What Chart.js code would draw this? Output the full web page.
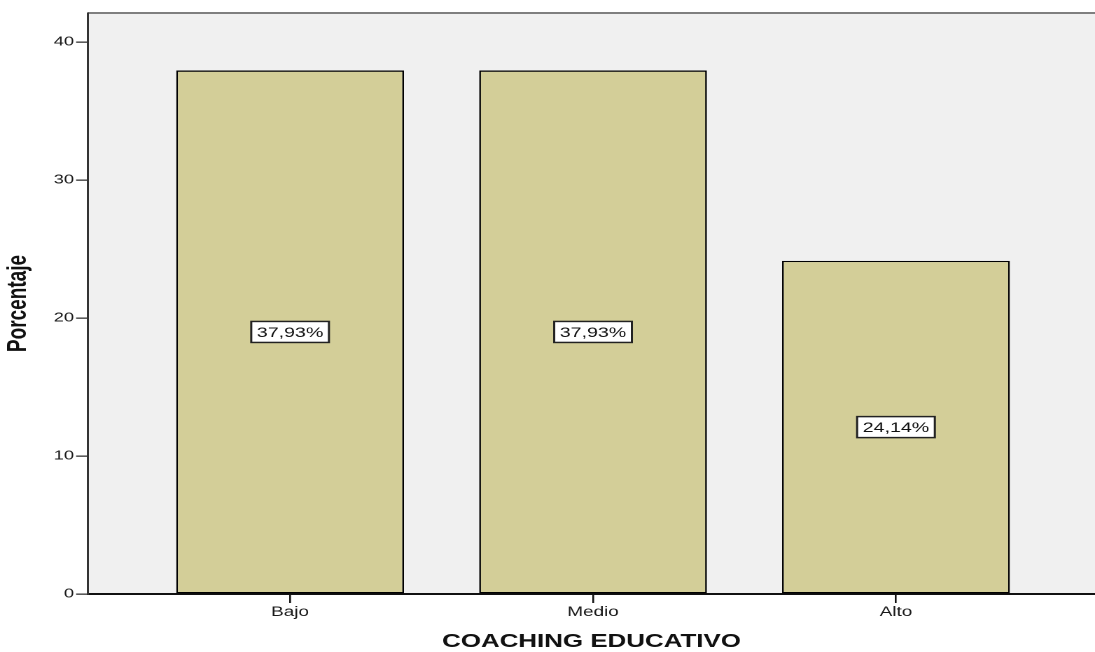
<!DOCTYPE html>
<html lang="es">
<head>
<meta charset="utf-8">
<title>Coaching educativo</title>
<script src="https://cdn.jsdelivr.net/npm/chart.js@4.4.1/dist/chart.umd.min.js"></script>
<style>
    html, body { margin: 0; padding: 0; background: #ffffff; overflow: hidden; }
    /* the chart is laid out narrower and stretched sideways, like the exported SPSS graphic */
    #wrap { width: 782px; height: 652px; transform: scaleX(1.40026); transform-origin: 0 0; }
</style>
</head>
<body>
<div id="wrap"><canvas id="coachingChart" width="782" height="652"></canvas></div>
<script>
const categorias = ['Bajo', 'Medio', 'Alto'];
const porcentajes = [37.93, 37.93, 24.14];
const ticksY = [0, 10, 20, 30, 40];

document.addEventListener('DOMContentLoaded', () => {
    const ctx = document.getElementById('coachingChart').getContext('2d');

    Chart.defaults.font.family = '"Liberation Sans", Arial, sans-serif';
    Chart.defaults.color = '#1a1a1a';

    function formatoPorcentaje(valor) {
        return valor.toFixed(2).replace('.', ',') + '%';
    }

    // fondo gris del área de trazado y línea superior
    const fondoArea = {
        id: 'fondoArea',
        beforeDraw(chart) {
            const { ctx, chartArea: a } = chart;
            ctx.save();
            ctx.fillStyle = '#f0f0f0';
            ctx.fillRect(a.left, a.top, a.right - a.left, a.bottom - a.top);
            ctx.strokeStyle = '#7f7f7f';
            ctx.lineWidth = 2;
            ctx.beginPath();
            ctx.moveTo(a.left, a.top);
            ctx.lineTo(a.right, a.top);
            ctx.stroke();
            ctx.restore();
        }
    };

    // etiquetas con el porcentaje en el centro de cada barra
    const etiquetasBarras = {
        id: 'etiquetasBarras',
        afterDatasetsDraw(chart) {
            const { ctx } = chart;
            const meta = chart.getDatasetMeta(0);
            ctx.save();
            ctx.font = '14px "Liberation Sans", Arial, sans-serif';
            ctx.textAlign = 'center';
            ctx.textBaseline = 'middle';
            meta.data.forEach((bar, i) => {
                const texto = formatoPorcentaje(porcentajes[i]);
                const cy = (bar.y + bar.base) / 2;
                const w = ctx.measureText(texto).width + 8;
                const h = 21;
                ctx.fillStyle = '#ffffff';
                ctx.fillRect(bar.x - w / 2, cy - h / 2, w, h);
                ctx.strokeStyle = '#222222';
                ctx.lineWidth = 1.5;
                ctx.strokeRect(bar.x - w / 2, cy - h / 2, w, h);
                ctx.fillStyle = '#111111';
                ctx.fillText(texto, bar.x, cy + 1);
            });
            ctx.restore();
        }
    };

    new Chart(ctx, {
        type: 'bar',
        data: {
            datasets: [{
                label: 'Porcentaje',
                data: porcentajes.map((v, i) => ({ x: i, y: v })),
                backgroundColor: '#d3ce98',
                borderColor: '#000000',
                borderWidth: 1.3,
                borderSkipped: false,
                categoryPercentage: 1,
                barPercentage: 0.752
            }]
        },
        options: {
            responsive: false,
            animation: false,
            devicePixelRatio: 2,
            layout: { padding: { top: 13, left: 0, right: 0, bottom: 0 } },
            plugins: {
                legend: { display: false },
                tooltip: { enabled: false }
            },
            scales: {
                x: {
                    type: 'linear',
                    min: -0.667,
                    max: 2.657,
                    offset: false,
                    afterBuildTicks: scale => {
                        scale.ticks = categorias.map((c, i) => ({ value: i }));
                    },
                    afterFit: scale => { scale.height = 58; },
                    ticks: {
                        autoSkip: false,
                        maxRotation: 0,
                        padding: 1,
                        color: '#1a1a1a',
                        font: { size: 13.5 },
                        callback: value => categorias[value]
                    },
                    grid: {
                        offset: false,
                        drawOnChartArea: false,
                        tickLength: 9,
                        lineWidth: 1.3,
                        color: '#111111'
                    },
                    border: { color: '#111111', width: 2 },
                    title: {
                        display: true,
                        text: 'COACHING EDUCATIVO',
                        color: '#111111',
                        padding: { top: 0, bottom: 1 },
                        font: { size: 18.5, weight: 'bold', lineHeight: 1 }
                    }
                },
                y: {
                    min: 0,
                    max: 42.1,
                    afterBuildTicks: scale => {
                        scale.ticks = ticksY.map(v => ({ value: v }));
                    },
                    afterFit: scale => { scale.width = 62.86; },
                    ticks: {
                        padding: 1.5,
                        color: '#1a1a1a',
                        font: { size: 13 }
                    },
                    grid: {
                        drawOnChartArea: false,
                        tickLength: 8.5,
                        lineWidth: 1.3,
                        color: '#333333'
                    },
                    border: { color: '#333333', width: 1.5 },
                    title: {
                        display: true,
                        text: 'Porcentaje',
                        color: '#111111',
                        padding: { top: 2, bottom: 0 },
                        font: { size: 19, weight: 'bold' }
                    }
                }
            }
        },
        plugins: [fondoArea, etiquetasBarras]
    });
});
</script>
</body>
</html>
